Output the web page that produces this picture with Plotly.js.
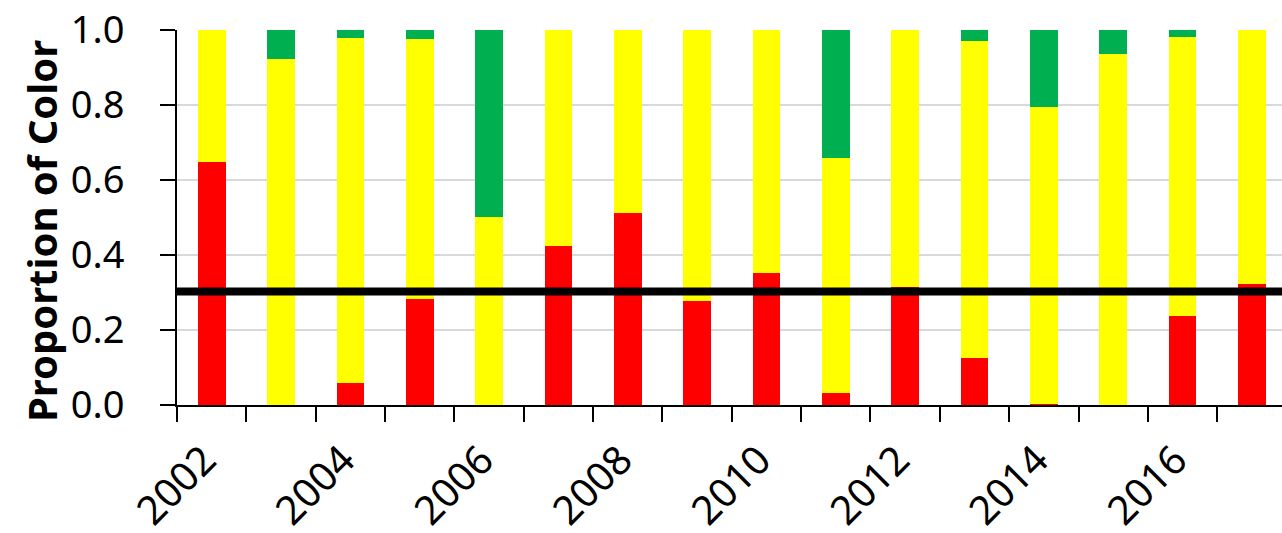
<!DOCTYPE html>
<html>
<head>
<meta charset="utf-8">
<script src="https://cdn.plot.ly/plotly-3.0.1.min.js"></script>
<style>
  html, body { margin: 0; padding: 0; background: #ffffff; overflow: hidden; }
  #chart { width: 1282px; height: 533px; }
</style>
</head>
<body>
<div id="chart"></div>
<script>
// ---- data ----
const years = [2002, 2003, 2004, 2005, 2006, 2007, 2008, 2009, 2010, 2011, 2012, 2013, 2014, 2015, 2016, 2017];
const redValues    = [0.648, 0.000, 0.058, 0.282, 0.000, 0.424, 0.513, 0.277, 0.352, 0.032, 0.315, 0.125, 0.004, 0.000, 0.238, 0.322];
const yellowValues = [0.352, 0.924, 0.921, 0.694, 0.502, 0.576, 0.487, 0.723, 0.648, 0.627, 0.685, 0.847, 0.792, 0.936, 0.744, 0.678];
const greenValues  = [0.000, 0.076, 0.021, 0.024, 0.498, 0.000, 0.000, 0.000, 0.000, 0.341, 0.000, 0.028, 0.204, 0.064, 0.018, 0.000];
const tickYears = [2002, 2004, 2006, 2008, 2010, 2012, 2014, 2016];
const tickLabels = ["2002", "2004", "2006", "2008", "2010", "2012", "2014", "2016"];
const threshold = 0.303;
const yTickVals = [0, 0.2, 0.4, 0.6, 0.8, 1.0];
const yTickText = ["0.0", "0.2", "0.4", "0.6", "0.8", "1.0"];
const yTitle = "Proportion of Color";

const FONT = "Noto Sans, Open Sans, DejaVu Sans, sans-serif";

const traces = [
  { type: "bar", name: "Red", x: years, y: redValues, marker: { color: "#FF0000", line: { width: 0 } }, hoverinfo: "x+y" },
  { type: "bar", name: "Yellow", x: years, y: yellowValues, marker: { color: "#FFFF00", line: { width: 0 } }, hoverinfo: "x+y" },
  { type: "bar", name: "Green", x: years, y: greenValues, marker: { color: "#00B050", line: { width: 0 } }, hoverinfo: "x+y" },
  { type: "scatter", mode: "lines", name: "Threshold",
    x: [years[0] - 0.5, years[years.length - 1] + 0.5], y: [threshold, threshold],
    line: { color: "#000000", width: 8 }, hoverinfo: "y" }
];

const layout = {
  width: 1282,
  height: 533,
  margin: { l: 177, r: 0, t: 30, b: 128, pad: 0 },
  paper_bgcolor: "#ffffff",
  plot_bgcolor: "#ffffff",
  barmode: "stack",
  bargap: 0.6,
  showlegend: false,
  font: { family: FONT, color: "#000000" },
  xaxis: {
    type: "linear",
    range: [2001.5, 2017.434],
    tickmode: "array",
    tickvals: tickYears,
    ticktext: tickLabels.map(t => t + "\u00a0"),
    tickangle: -45,
    ticks: "outside",
    ticklen: 6,
    tickcolor: "rgba(0,0,0,0)",
    tickfont: { family: FONT, size: 40, color: "#000000" },
    showgrid: false,
    zeroline: false,
    showline: true,
    linecolor: "#000000",
    linewidth: 2,
    minor: { tick0: 2001.5, dtick: 1, ticks: "outside", ticklen: 15, tickwidth: 2, tickcolor: "#000000", showgrid: false },
    fixedrange: true
  },
  yaxis: {
    range: [0, 1],
    tickmode: "array",
    tickvals: yTickVals,
    ticktext: yTickText,
    ticks: "outside",
    ticklen: 15,
    tickwidth: 2,
    tickcolor: "#000000",
    ticklabelstandoff: 28,
    tickfont: { family: FONT, size: 38, color: "#000000" },
    showgrid: true,
    gridcolor: "#d9d9d9",
    gridwidth: 1.5,
    zeroline: false,
    showline: true,
    linecolor: "#000000",
    linewidth: 2,
    automargin: false,
    fixedrange: true
  },
  annotations: [{
    text: yTitle,
    textangle: -90,
    xref: "paper", yref: "paper",
    x: 0, y: 0.464,
    xanchor: "center", yanchor: "middle",
    xshift: -136,
    showarrow: false,
    font: { family: FONT, size: 40, color: "#000000", weight: "bold" }
  }]
};

Plotly.newPlot("chart", traces, layout, { displayModeBar: false, staticPlot: true });
</script>
</body>
</html>
